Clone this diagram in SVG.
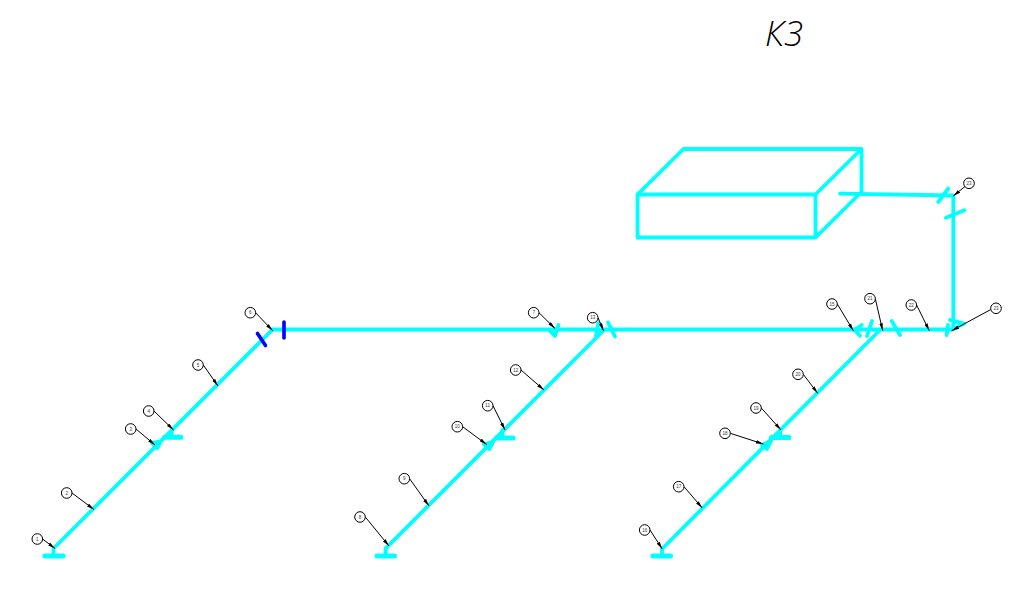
<svg xmlns="http://www.w3.org/2000/svg" width="1010" height="589" viewBox="0 0 1010 589">
<style>
.p{fill:none;stroke:#00ffff;stroke-width:3.8;stroke-linecap:round;stroke-linejoin:round}
.b{fill:none;stroke:#0000ff;stroke-width:3.6;stroke-linecap:round}
.f{fill:none;stroke:#00ffff;stroke-width:5;stroke-linecap:round}
.l{stroke:#000;stroke-width:1;fill:none;marker-end:url(#a)}
.c{fill:#fff;stroke:#000;stroke-width:1}
.t{font-family:"Liberation Sans",sans-serif;font-size:4.5px;fill:#333;text-anchor:middle}
</style>
<defs><marker id="a" markerUnits="userSpaceOnUse" markerWidth="8" markerHeight="4" refX="7.500" refY="1.750" orient="auto"><path d="M0 0L7.500 1.750L0 3.500Z" fill="#000"/></marker>
<g id="n"><circle class="c" r="5.300"/></g></defs>
<rect width="1010" height="589" fill="#fff"/>
<g id="title"><text x="765" y="45.500" font-family="'Open Sans','Liberation Sans',sans-serif" font-style="italic" font-weight="300" font-size="34.500" fill="#000">К3</text></g>
<g id="tank">
<path class="p" d="M637.500 194.500H815.500V237.500H637.500ZM637.500 194.500L683.500 149H861.500L815.500 194.500M861.500 149V192L815.500 237.500"/>
</g>
<g id="connectors">
<path class="p" d="M272 329.500H953.300V195.500L840 193.700"/>
<path class="p" d="M53.500 556V548.500L272 330"/>
<path class="p" d="M385.700 556V548.300L604 330"/>
<path class="p" d="M662 556V549L880 330"/>
<path class="f" d="M45 555.900H63M377 555.900H394.500M653 556H670.500M164.500 437.300H181M496.500 438H513M771.500 437.600H789"/>
<path class="p" d="M171.700 430V437M502.300 430V438M780.300 430V437"/>
<path class="b" d="M257.500 333.500L265.500 345.500M284 322V338"/>
<path class="p" d="M152 443L161 441L157.500 448ZM484 444L493 442L489.500 449ZM762 445L771 441L767 449Z"/>
<path class="p" d="M558.500 325L555 336L549.500 330.500M598.300 323L596 336M596 336L603 330M608 322.500L615 336.500"/>
<path class="p" d="M861.700 325L854.500 330L860 335.700M872 321L867 336M891.700 321L900 335M948 325L946.700 335M950 320L964 323.500L953 329M938.300 202L948.300 188.500M946 217.700L964.300 210.300"/>
</g>
<g id="leaders">
<path class="l" d="M42.600 539L55 548.500"/><path class="l" d="M72 493L94 509.500"/><path class="l" d="M136 429L155 445"/><path class="l" d="M154 411L173.500 430"/><path class="l" d="M203.300 365L218 386"/><path class="l" d="M255.600 312.700L272.700 330.700"/>
<path class="l" d="M539 312.700L555 328.500"/><path class="l" d="M598 317.700L603.500 330.700"/><path class="l" d="M521 370L544 390"/><path class="l" d="M493 405.700L505 430"/><path class="l" d="M462.600 426.700L486.700 444.500"/><path class="l" d="M409.600 478.700L429 506"/><path class="l" d="M365.300 517L389 546"/>
<path class="l" d="M650 530L662.300 549"/><path class="l" d="M684 486.700L702.300 508"/><path class="l" d="M730.300 433.300L763.300 444"/><path class="l" d="M761.300 408L781 430"/><path class="l" d="M803.300 374.300L817.700 393.300"/>
<path class="l" d="M837.300 304L853.300 330.700"/><path class="l" d="M875.300 298.700L882.700 330.700"/><path class="l" d="M916.600 305L929.300 330.700"/><path class="l" d="M990.800 309.500L951.700 330.700"/><path class="l" d="M965 186.500L953.300 196"/>
</g>
<g id="n1" transform="translate(37.300 539)"><use href="#n"/><text class="t" y="1.600">1</text></g>
<g id="n2" transform="translate(66.700 493)"><use href="#n"/><text class="t" y="1.600">2</text></g>
<g id="n3" transform="translate(130.700 429)"><use href="#n"/><text class="t" y="1.600">3</text></g>
<g id="n4" transform="translate(148.700 411)"><use href="#n"/><text class="t" y="1.600">4</text></g>
<g id="n5" transform="translate(198 365)"><use href="#n"/><text class="t" y="1.600">5</text></g>
<g id="n6" transform="translate(250.300 312.700)"><use href="#n"/><text class="t" y="1.600">6</text></g>
<g id="n7" transform="translate(533.700 312.700)"><use href="#n"/><text class="t" y="1.600">7</text></g>
<g id="n8" transform="translate(360 517)"><use href="#n"/><text class="t" y="1.600">8</text></g>
<g id="n9" transform="translate(404.300 478.700)"><use href="#n"/><text class="t" y="1.600">9</text></g>
<g id="n10" transform="translate(457.300 426.700)"><use href="#n"/><text class="t" y="1.600">10</text></g>
<g id="n11" transform="translate(487.700 405.700)"><use href="#n"/><text class="t" y="1.600">11</text></g>
<g id="n12" transform="translate(515.700 370)"><use href="#n"/><text class="t" y="1.600">12</text></g>
<g id="n13" transform="translate(592.700 317.700)"><use href="#n"/><text class="t" y="1.600">13</text></g>
<g id="n15" transform="translate(832 304)"><use href="#n"/><text class="t" y="1.600">15</text></g>
<g id="n16" transform="translate(644.700 530)"><use href="#n"/><text class="t" y="1.600">16</text></g>
<g id="n17" transform="translate(678.700 486.700)"><use href="#n"/><text class="t" y="1.600">17</text></g>
<g id="n18" transform="translate(725 433.300)"><use href="#n"/><text class="t" y="1.600">18</text></g>
<g id="n19" transform="translate(756 408)"><use href="#n"/><text class="t" y="1.600">19</text></g>
<g id="n20" transform="translate(798 374.300)"><use href="#n"/><text class="t" y="1.600">20</text></g>
<g id="n21" transform="translate(870 298.700)"><use href="#n"/><text class="t" y="1.600">21</text></g>
<g id="n22" transform="translate(911.300 305)"><use href="#n"/><text class="t" y="1.600">22</text></g>
<g id="n23a" transform="translate(996 308.300)"><use href="#n"/><text class="t" y="1.600">23</text></g>
<g id="n23b" transform="translate(969 183.300)"><use href="#n"/><text class="t" y="1.600">23</text></g>
</svg>
